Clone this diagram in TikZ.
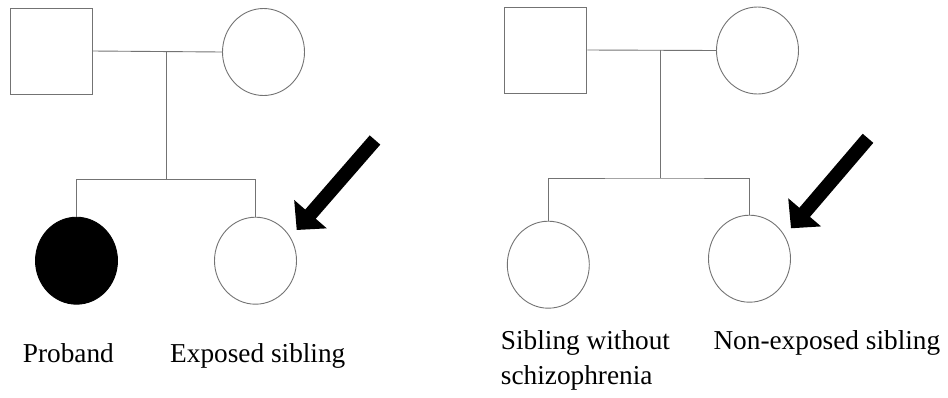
\documentclass[tikz,border=0pt]{standalone}
\usepackage{fontspec}
\setmainfont{Liberation Serif}
\usetikzlibrary{shapes.geometric,arrows.meta}

\tikzset{
  pedline/.style={draw=black!55, line width=0.9pt},
  male/.style={rectangle, draw=black!55, line width=0.9pt, minimum width=82pt, minimum height=86pt, inner sep=0pt},
  female/.style={ellipse, draw=black!55, line width=0.9pt, minimum width=82pt, minimum height=87pt, inner sep=0pt},
  affected/.style={female, fill=black, draw=black},
  pointer/.style={line width=14pt, -{Triangle[length=21pt, width=42pt]}},
  caption/.style={anchor=base west, inner sep=0pt, align=left, font=\fontsize{27.3}{35}\selectfont}
}

\begin{document}
\begin{tikzpicture}[x=1pt, y=-1pt]
  \useasboundingbox (0,0) rectangle (948,397);

  % ---- first family ----
  \node[male]   (f1) at (51,51) {};
  \node[female] (m1) at (263.5,52) {};
  \coordinate (u1) at (166,52);
  \coordinate (s1) at (166,179.5);
  \node[affected] (pb) at (76.5,260.7) {};
  \node[female]   (es) at (255.5,260.7) {};
  \draw[pedline] (f1.east) -- (m1.west);
  \draw[pedline] (u1) -- (s1);
  \draw[pedline] (pb.north) |- (s1) -| (es.north);

  \coordinate (a1tail) at (375,140);
  \coordinate (a1tip)  at (296.7,230);
  \draw[pointer] (a1tail) -- (a1tip);

  \node[caption] (lpb) at (22.7,362.7) {Proband};
  \node[caption] (les) at (170,362.7) {Exposed sibling};

  % ---- second family ----
  \node[male]   (f2) at (545.8,50) {};
  \node[female] (m2) at (757.5,50.5) {};
  \coordinate (u2) at (660.3,50.3);
  \coordinate (s2) at (660.3,178);
  \node[female] (ws) at (548.3,264.7) {};
  \node[female] (ns) at (749.5,258.7) {};
  \draw[pedline] (f2.east) -- (m2.west);
  \draw[pedline] (u2) -- (s2);
  \draw[pedline] (ws.north) |- (s2) -| (ns.north);

  \coordinate (a2tail) at (868,138.3);
  \coordinate (a2tip)  at (791,228.3);
  \draw[pointer] (a2tail) -- (a2tip);

  % the base anchor of a two-line caption sits on its last line
  \node[caption] (lws) at (500.7,384) {Sibling without\\schizophrenia};
  \node[caption] (lns) at (713.3,349) {Non-exposed sibling};
\end{tikzpicture}
\end{document}
